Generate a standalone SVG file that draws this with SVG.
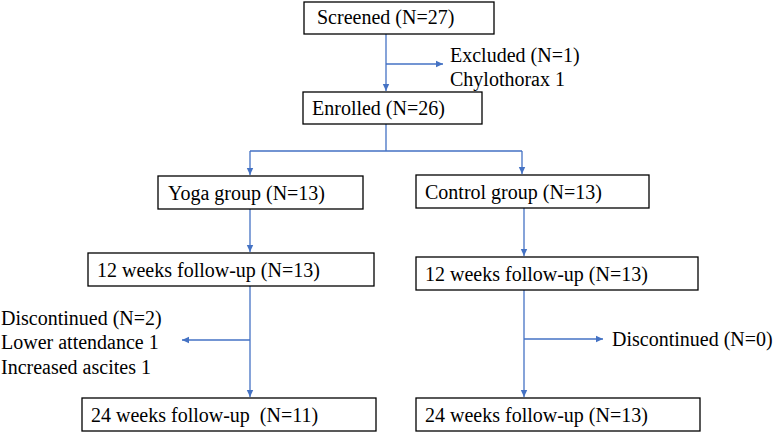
<svg xmlns="http://www.w3.org/2000/svg" width="778" height="433" viewBox="0 0 778 433">
<style>
.box{fill:#fff;stroke:#000;stroke-width:1.3}
.t{font-family:'Liberation Serif','Tinos','Times New Roman','DejaVu Serif',serif;font-size:20px;fill:#000}
.c{fill:none;stroke:#4472C4;stroke-width:1.3}
</style>
<defs>
<marker id="ah" markerWidth="8" markerHeight="8" refX="7" refY="4" orient="auto" markerUnits="userSpaceOnUse">
<path d="M0,0.8 L7,4 L0,7.2 Z" fill="#4472C4"/>
</marker>
</defs>
<rect width="778" height="433" fill="#fff"/>
<g id="connectors">
<path class="c" d="M386,34 V91" marker-end="url(#ah)"/>
<path class="c" d="M386,64 H443" marker-end="url(#ah)"/>
<path class="c" d="M386,124 V151 M250,151 H522"/>
<path class="c" d="M250,151 V175" marker-end="url(#ah)"/>
<path class="c" d="M522,151 V174" marker-end="url(#ah)"/>
<path class="c" d="M250,209 V252" marker-end="url(#ah)"/>
<path class="c" d="M524,208 V256" marker-end="url(#ah)"/>
<path class="c" d="M250,286 V397" marker-end="url(#ah)"/>
<path class="c" d="M250,340 H182" marker-end="url(#ah)"/>
<path class="c" d="M524,290 V397" marker-end="url(#ah)"/>
<path class="c" d="M524,339 H603" marker-end="url(#ah)"/>
</g>
<g class="t">
<g id="screened"><rect class="box" x="304" y="2" width="190" height="32"/><text x="317" y="24">Screened (N=27)</text></g>
<g id="excluded"><text x="450" y="62">Excluded (N=1)</text><text x="450" y="86">Chylothorax 1</text></g>
<g id="enrolled"><rect class="box" x="303" y="92" width="179" height="32"/><text x="312" y="115">Enrolled (N=26)</text></g>
<g id="yoga"><rect class="box" x="158" y="176" width="205" height="33"/><text x="168" y="200">Yoga group (N=13)</text></g>
<g id="control"><rect class="box" x="416" y="175" width="233" height="33"/><text x="425" y="199">Control group (N=13)</text></g>
<g id="yoga12"><rect class="box" x="88" y="253" width="286" height="33"/><text x="97" y="277">12 weeks follow-up (N=13)</text></g>
<g id="control12"><rect class="box" x="416" y="257" width="282" height="33"/><text x="425" y="281">12 weeks follow-up (N=13)</text></g>
<g id="disc2"><text x="1" y="325">Discontinued (N=2)</text><text x="1" y="349">Lower attendance 1</text><text x="1" y="374">Increased ascites 1</text></g>
<g id="disc0"><text x="612" y="346">Discontinued (N=0)</text></g>
<g id="yoga24"><rect class="box" x="82" y="398" width="294" height="33"/><text x="91" y="422" xml:space="preserve">24 weeks follow-up  (N=11)</text></g>
<g id="control24"><rect class="box" x="416" y="398" width="284" height="33"/><text x="425" y="422">24 weeks follow-up (N=13)</text></g>
</g>
</svg>
